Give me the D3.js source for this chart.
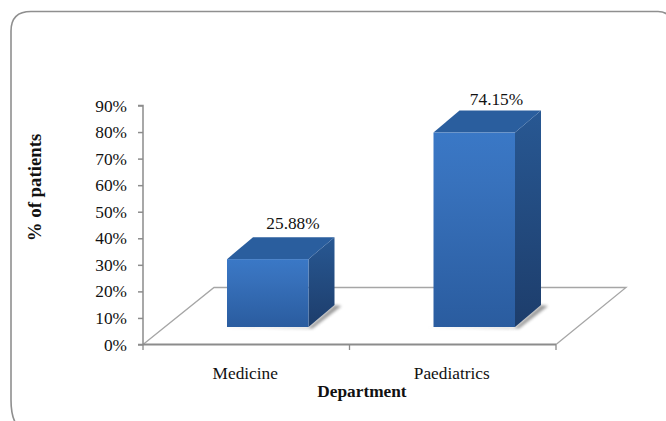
<!DOCTYPE html>
<html><head><meta charset="utf-8">
<script src="https://cdn.jsdelivr.net/npm/d3@7"></script>
<style>html,body{margin:0;padding:0;background:#fff}svg{display:block}text{font-family:"Liberation Serif",serif;fill:#111}</style>
</head><body><svg id="c" width="666" height="421"></svg>
<script>
const categories = ["Medicine", "Paediatrics"];
const values = [25.88, 74.15];
const valueLabels = ["25.88%", "74.15%"];
const yTicks = [0,10,20,30,40,50,60,70,80,90];
const yTitle = "% of patients";
const xTitle = "Department";

const svg = d3.select("#c");
const x = d3.scaleBand().domain(categories).range([143,556]);
const y = d3.scaleLinear().domain([0,90]).range([344.5,105.5]);
const barH = d3.scaleLinear().domain([0,90]).range([0,236]);
const labelY = d3.scaleLinear().domain([0,90]).range([295.5,64.5]);
const barW = 81.5, base = 327, dx = 26, dy = 22, bx = 84;
const fs = "17.3px";

const defs = svg.append("defs");
const grad = (id, stops) => {
  const g = defs.append("linearGradient").attr("id",id).attr("x1",0).attr("y1",0).attr("x2",0).attr("y2",1);
  stops.forEach(s => g.append("stop").attr("offset",s[0]).attr("stop-color",s[1]));
};
grad("front",[[0,"#3a78c6"],[.25,"#3872bd"],[1,"#2a5c9f"]]);
grad("side",[[0,"#285893"],[1,"#1d3d6b"]]);
defs.append("filter").attr("id","blur").attr("x","-20%").attr("y","-50%").attr("width","140%").attr("height","200%")
  .append("feGaussianBlur").attr("stdDeviation",1.6);

// frame
svg.append("path").attr("d","M15,422Q11,414 11,400V31Q11,11.5 31,11.5H658Q664,11.5 668,15")
  .attr("fill","none").attr("stroke","#8f8f8f").attr("stroke-width",1.6);

// floor
svg.append("path").attr("d","M143,344.5L214,287.5H626L556,344.5")
  .attr("fill","#fff").attr("stroke","#a6a6a6").attr("stroke-width",1.3);
svg.append("path").attr("d","M143,344.5H556").attr("stroke","#8c8c8c").attr("stroke-width",2);

// axes
const ya = d3.axisLeft(y).tickValues(yTicks).tickSize(5).tickFormat(d=>d+"%").tickPadding(11);
const gy = svg.append("g").attr("transform","translate(143,0)").call(ya);
gy.selectAll("path,line").attr("stroke","#8c8c8c").attr("stroke-width",1.5);
gy.select("path").attr("d","M-5,105.5H0V344.5H-5");
gy.selectAll("text").style("font-size",fs).attr("fill","#111");
[143,349.5,556].forEach(t=>svg.append("line").attr("x1",t).attr("x2",t).attr("y1",344.5).attr("y2",350).attr("stroke","#8c8c8c").attr("stroke-width",1.3));

// bars
const bars = svg.selectAll("g.bar").data(categories).join("g").attr("class","bar");
bars.each(function(c,i){
  const g = d3.select(this), x0 = x(c)+bx, x1 = x0+barW, h = barH(values[i]), t = base-h;
  g.append("path").attr("d",`M${x0-8},${base+0.5}H${x1}L${x1+dx},${base-dy}L${x1+dx+7},${base-dy+1}L${x1+4},${base+1.5}Z`).attr("fill","#666").attr("opacity",.65).attr("filter","url(#blur)");
  g.append("path").attr("d",`M${x1},${t}L${x1+dx},${t-dy}V${base-dy}L${x1},${base}Z`).attr("fill","url(#side)");
  g.append("path").attr("d",`M${x0},${t}L${x0+dx},${t-dy}H${x1+dx}L${x1},${t}Z`).attr("fill","#2a5e9e");
  g.append("rect").attr("x",x0).attr("y",t).attr("width",barW).attr("height",h).attr("fill","url(#front)");
  g.append("text").attr("x",x0+(i?63:66)).attr("y",labelY(values[i])).attr("text-anchor","middle").style("font-size",fs).text(valueLabels[i]);
});
svg.selectAll("text.cat").data(categories).join("text").attr("class","cat")
  .attr("x",d=>x(d)+x.bandwidth()/2-1).attr("y",379).attr("text-anchor","middle").style("font-size",fs).text(d=>d);
svg.append("text").attr("x",362).attr("y",397).attr("text-anchor","middle").style("font-size",fs).style("font-weight","bold").text(xTitle);
svg.append("text").attr("transform","translate(41,187.5) rotate(-90)").attr("text-anchor","middle").style("font-size","18.8px").style("font-weight","bold").text(yTitle);
</script></body></html>
